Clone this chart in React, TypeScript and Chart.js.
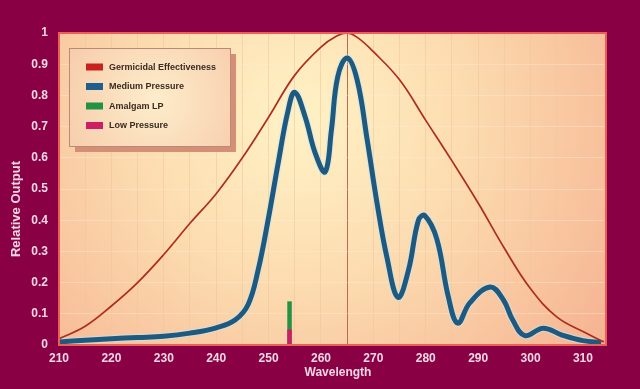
import React, { useEffect, useRef } from 'react';
import { Chart, registerables } from 'chart.js';

Chart.register(...registerables);

// ---- Data ----
const germicidalWavelength = [210, 215, 220, 225, 230, 235, 240, 245, 250, 255, 260, 263, 265, 267, 270, 275, 280, 285, 290, 295, 300, 305, 310, 314];
const germicidalValue = [0.02, 0.06, 0.125, 0.2, 0.29, 0.39, 0.485, 0.6, 0.73, 0.865, 0.955, 0.99, 1.0, 0.985, 0.94, 0.85, 0.72, 0.59, 0.455, 0.31, 0.18, 0.09, 0.043, 0.01];

const mediumWavelength = [210, 215, 220, 225, 230, 235, 240, 243.6, 246.1, 248, 249.9, 251.8, 253.7, 255, 257, 258.9, 260.8, 262, 263.2, 265, 266.9, 268.8, 270.7, 272.6, 274.7, 276.7, 278.6, 279.8, 282.1, 284.3, 286.1, 288.4, 292.3, 294.8, 296.6, 298.9, 302.4, 306, 310, 313.5];
const mediumValue = [0.01, 0.015, 0.02, 0.024, 0.028, 0.038, 0.055, 0.08, 0.13, 0.24, 0.4, 0.58, 0.75, 0.81, 0.73, 0.615, 0.555, 0.69, 0.86, 0.92, 0.85, 0.66, 0.455, 0.28, 0.153, 0.24, 0.4, 0.415, 0.34, 0.155, 0.07, 0.135, 0.186, 0.145, 0.08, 0.03, 0.054, 0.032, 0.014, 0.008];

const amalgamWavelength = [254, 254];
const amalgamValue = [0, 0.14];
const lowPressureWavelength = [254, 254];
const lowPressureValue = [0, 0.05];

const legendLabels = ['Germicidal Effectiveness', 'Medium Pressure', 'Amalgam LP', 'Low Pressure'];
const legendColors = ['#c8221e', '#1f5f8e', '#249244', '#cc1f66'];

const xTickLabels = [210, 220, 230, 240, 250, 260, 270, 280, 290, 300, 310];
const peakWavelength = 265;

const FONT = '"Liberation Sans", Arial, sans-serif';
const TEXT = '#efd7e4';

const zip = (xs: number[], ys: number[]) => xs.map((x, i) => ({ x, y: ys[i] }));

export default function App() {
  const ref = useRef<HTMLCanvasElement | null>(null);

  useEffect(() => {
    document.body.style.margin = '0';
    const canvas = ref.current;
    if (!canvas) return;

    const bgPlugin = {
      id: 'bg',
      beforeDraw(chart: any) {
        const { ctx, chartArea: a } = chart;
        ctx.save();
        ctx.fillStyle = '#8a0045';
        ctx.fillRect(0, 0, chart.width, chart.height);
        const g = ctx.createRadialGradient(300, 120, 10, 300, 120, 390);
        g.addColorStop(0, '#fff1c4');
        g.addColorStop(0.4, '#fcdcb0');
        g.addColorStop(1, '#f5b090');
        ctx.fillStyle = g;
        ctx.fillRect(a.left, a.top, a.right - a.left, a.bottom - a.top);
        ctx.restore();
      },
      afterDraw(chart: any) {
        const { ctx, chartArea: a } = chart;
        ctx.save();
        // plot border
        ctx.strokeStyle = '#ea5f56';
        ctx.lineWidth = 2;
        ctx.strokeRect(a.left, a.top, a.right - a.left, a.bottom - a.top);

        // legend box
        const lx = 69, ly = 48, lw = 161, lh = 98;
        ctx.fillStyle = '#d58f76';
        ctx.fillRect(lx + 6, ly + 6, lw, lh);
        const lg = ctx.createRadialGradient(155, 100, 5, 155, 100, 120);
        lg.addColorStop(0, '#fdebc9');
        lg.addColorStop(1, '#f6c6a5');
        ctx.fillStyle = lg;
        ctx.fillRect(lx, ly, lw, lh);
        ctx.strokeStyle = '#b98a78';
        ctx.lineWidth = 1;
        ctx.strokeRect(lx + 0.5, ly + 0.5, lw, lh);

        ctx.font = `bold 9px ${FONT}`;
        ctx.textBaseline = 'middle';
        ctx.textAlign = 'left';
        legendLabels.forEach((label, i) => {
          const cy = 67 + i * 19.5;
          ctx.fillStyle = legendColors[i];
          ctx.fillRect(86, cy - 3.5, 17, 7);
          ctx.fillStyle = '#3a2a22';
          ctx.fillText(label, 109, cy + 0.5, 110);
        });

        // axis titles
        ctx.fillStyle = TEXT;
        ctx.textAlign = 'center';
        ctx.font = `bold 12px ${FONT}`;
        ctx.fillText('Wavelength', 338, 373);
        ctx.save();
        ctx.translate(16, 209);
        ctx.rotate(-Math.PI / 2);
        ctx.font = `bold 13px ${FONT}`;
        ctx.fillText('Relative Output', 0, 0);
        ctx.restore();
        ctx.restore();
      },
    };

    const chart = new Chart(canvas, {
      type: 'line',
      data: {
        datasets: [
          {
            label: 'Low Pressure',
            data: zip(lowPressureWavelength, lowPressureValue),
            borderColor: legendColors[3],
            borderWidth: 4.5,
            borderCapStyle: 'butt',
            pointRadius: 0,
            order: 1,
          },
          {
            label: 'Amalgam LP',
            data: zip(amalgamWavelength, amalgamValue),
            borderColor: legendColors[2],
            borderWidth: 4.5,
            borderCapStyle: 'butt',
            pointRadius: 0,
            order: 2,
          },
          {
            label: 'Germicidal Effectiveness',
            data: zip(germicidalWavelength, germicidalValue),
            borderColor: '#ad2e1e',
            borderWidth: 1.7,
            pointRadius: 0,
            tension: 0.4,
            order: 3,
          },
          {
            label: 'Medium Pressure',
            data: zip(mediumWavelength, mediumValue),
            borderColor: '#1e5a80',
            borderWidth: 5,
            pointRadius: 0,
            tension: 0.4,
            order: 4,
          },
          {
            label: 'Medium Pressure halo',
            data: zip(mediumWavelength, mediumValue),
            borderColor: 'rgba(200,230,240,0.5)',
            borderWidth: 7.5,
            pointRadius: 0,
            tension: 0.4,
            order: 5,
          },
        ] as any,
      },
      options: {
        animation: false,
        responsive: false,
        maintainAspectRatio: false,
        layout: { padding: { top: 33, right: 34, left: 0, bottom: 0 } },
        plugins: { legend: { display: false }, tooltip: { enabled: false } },
        scales: {
          x: {
            type: 'linear',
            min: 210,
            max: 314.4,
            afterFit: (s: any) => { s.height = 44; },
            border: { display: false },
            grid: {
              drawTicks: false,
              lineWidth: 1,
              color: (c: any) => (c.tick && c.tick.value === peakWavelength ? '#bd6a55' : 'rgba(238,196,156,0.55)'),
            },
            ticks: {
              stepSize: 5,
              includeBounds: false,
              autoSkip: false,
              maxRotation: 0,
              padding: 6,
              color: TEXT,
              font: { family: FONT, size: 12, weight: 'bold' },
              callback: (v: any) => (xTickLabels.includes(Number(v)) ? String(v) : ''),
            },
          },
          y: {
            min: 0,
            max: 1,
            afterFit: (s: any) => { s.width = 59; },
            border: { display: false },
            grid: { drawTicks: false, lineWidth: 1, color: 'rgba(255,236,212,0.4)' },
            ticks: {
              stepSize: 0.1,
              padding: 11,
              color: TEXT,
              font: { family: FONT, size: 12, weight: 'bold' },
              callback: (v: any) => {
                const n = Number(v);
                if (Math.abs(n) < 1e-9) return '0';
                if (Math.abs(n - 1) < 1e-9) return '1';
                return n.toFixed(1);
              },
            },
          },
        },
      } as any,
      plugins: [bgPlugin],
    });

    return () => chart.destroy();
  }, []);

  return (
    <canvas ref={ref} width={640} height={389} style={{ display: 'block', width: 640, height: 389 }} />
  );
}
